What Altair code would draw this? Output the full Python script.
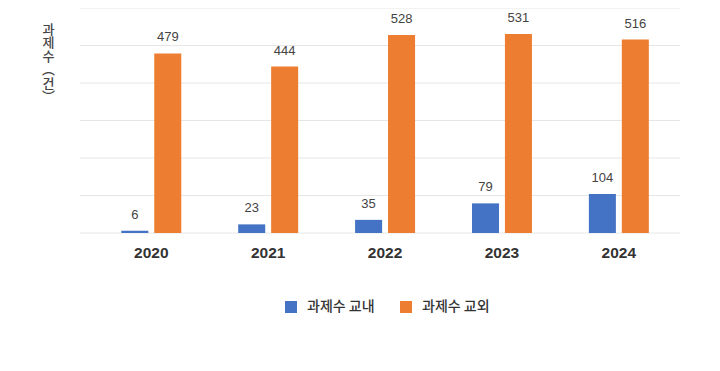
import altair as alt
import pandas as pd

years = ["2020", "2021", "2022", "2023", "2024"]
series = ["과제수 교내", "과제수 교외"]
inside = [6, 23, 35, 79, 104]
outside = [479, 444, 528, 531, 516]
colors = ["#4472C4", "#ED7D31"]
grid_values = [0, 100, 200, 300, 400, 500, 600]

rows = []
for y, a, b in zip(years, inside, outside):
    rows.append({"year": y, "series": series[0], "value": a})
    rows.append({"year": y, "series": series[1], "value": b})
df = pd.DataFrame(rows)
grid_df = pd.DataFrame({"value": grid_values})

LATIN = "Liberation Sans, Noto Sans CJK KR, sans-serif"
KR = "Noto Sans CJK KR, sans-serif"

x_enc = alt.X("year:N", sort=years, title=None,
              scale=alt.Scale(paddingInner=0.487, paddingOuter=0.31, align=0.57),
              axis=alt.Axis(labelAngle=0, ticks=False, domain=False, grid=False,
                            labelFont=LATIN, labelFontSize=15.5, labelFontWeight="bold",
                            labelColor="#333333", labelPadding=12))
xoff = alt.XOffset("series:N", sort=series,
                   scale=alt.Scale(paddingInner=0.18, paddingOuter=0))
y_enc = alt.Y("value:Q",
              scale=alt.Scale(domain=[0, 600], nice=False),
              axis=alt.Axis(title=["과", "제", "수", "︵", "건", "︶"],
                            titleAngle=0, titleAlign="center", titleBaseline="top",
                            titleX=-32, titleY=15, titleLineHeight=13.5,
                            titleFont=KR, titleFontSize=13, titleFontWeight=500,
                            titleColor="#444444",
                            labels=False, ticks=False, domain=False, grid=False))

grid = alt.Chart(grid_df).mark_rule(color="#e6e6e6", strokeWidth=1).encode(
    y=y_enc,
)

bars = alt.Chart(df).mark_bar().encode(
    x=x_enc,
    xOffset=xoff,
    y=y_enc,
    color=alt.Color("series:N", sort=series,
                    scale=alt.Scale(domain=series, range=colors),
                    legend=alt.Legend(title=None, orient="none", direction="horizontal",
                                      legendX=204, legendY=292, padding=0,
                                      symbolType="square", symbolSize=144,
                                      symbolStrokeWidth=0, labelOffset=9,
                                      columnPadding=24, labelFont=KR,
                                      labelFontSize=14, labelFontWeight=500,
                                      labelColor="#333333")),
)

labels = alt.Chart(df).mark_text(
    baseline="alphabetic", dy=-12, fontSize=13, font=LATIN, color="#444444"
).encode(
    x=x_enc,
    xOffset=xoff,
    y=y_enc,
    text="value:Q",
)

chart = alt.layer(grid, bars, labels).properties(
    width=600, height=225,
    autosize=alt.AutoSizeParams(type="none"),
    padding={"left": 72, "top": 0, "right": 32, "bottom": 120},
).configure_view(stroke=None)

chart.save("out.html", embed_options={"renderer": "svg", "actions": False})
